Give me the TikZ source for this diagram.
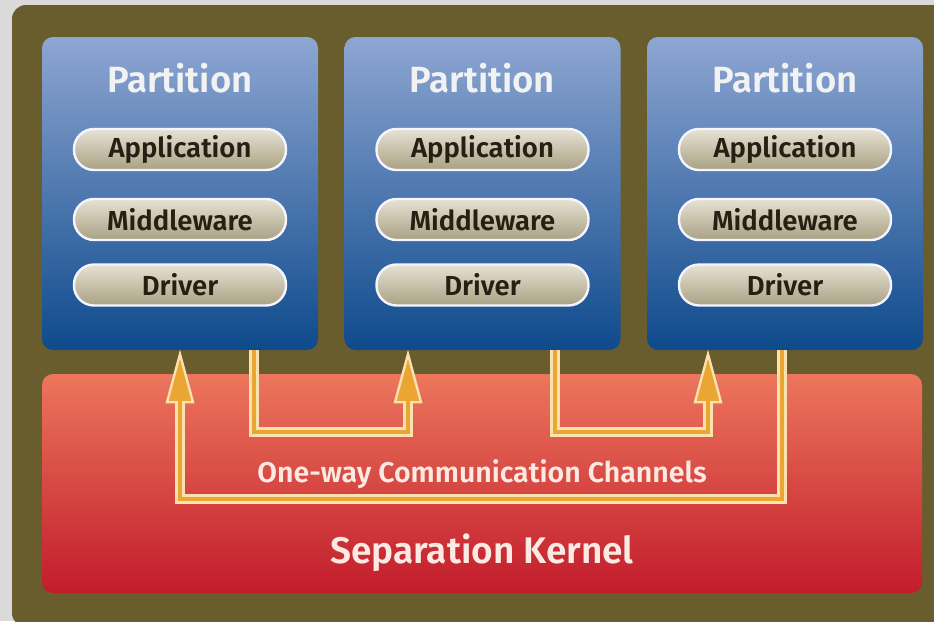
\documentclass[tikz,border=0pt]{standalone}
\usepackage{fontspec}
\setmainfont{Fira Sans}[BoldFont={Fira Sans SemiBold}]
\usetikzlibrary{calc}

\definecolor{bggray}{HTML}{DADADA}
\definecolor{frame}{HTML}{6A5D2D}
\definecolor{parttop}{HTML}{8EA6D2}
\definecolor{partmid}{HTML}{4F7CBE}
\definecolor{partbot}{HTML}{0E4A8C}
\definecolor{pilltop}{HTML}{E6E2D4}
\definecolor{pillbot}{HTML}{A9A184}
\definecolor{pilltext}{HTML}{262014}
\definecolor{kerntop}{HTML}{EC765C}
\definecolor{kernmid}{HTML}{DC4A3E}
\definecolor{kernbot}{HTML}{C21C2C}
\definecolor{chanorange}{HTML}{EBA532}
\definecolor{chancream}{HTML}{FAE2B0}
\definecolor{kerntext}{HTML}{FCEAE2}

\tikzset{
  partbox/.style={rectangle, rounded corners=11pt, minimum width=276pt, minimum height=313pt,
    top color=parttop, middle color=partmid, bottom color=partbot, inner sep=0pt},
  parttitle/.style={text=white!95!black, font=\bfseries\fontsize{36.5}{42}\selectfont},
  pill/.style={rectangle, rounded corners=20pt, minimum width=212pt, minimum height=41pt,
    draw=white!96!blue, line width=2.4pt, top color=pilltop, bottom color=pillbot,
    text=pilltext, font=\bfseries\fontsize{27.5}{32}\selectfont, inner sep=0pt},
  kernbox/.style={rectangle, rounded corners=11pt, minimum width=880pt, minimum height=219pt,
    top color=kerntop, middle color=kernmid, bottom color=kernbot, inner sep=0pt},
  chan/.style={draw=chancream, double=chanorange, double distance=4pt, line width=3pt,
    line join=miter, line cap=butt},
  chanhead/.style={fill=chanorange, draw=chancream, line width=2.4pt, line join=miter},
}

\newcommand{\arrowhead}[1]{%
  \path[chanhead] (#1) -- ++(-13,48) -- ++(26,0) -- cycle;}

\begin{document}
\begin{tikzpicture}[x=1pt, y=-1pt]
  \useasboundingbox (0,0) rectangle (934,621);
  \fill[bggray] (0,0) rectangle (934,621);
  % outer frame
  \fill[frame, rounded corners=14pt] (12,5) rectangle (950,627);

  % separation kernel
  \node[kernbox] (kern) at (482,483.5) {};
  \node[text=kerntext, font=\bfseries\fontsize{37}{42}\selectfont] (kernlbl) at (482,553) {Separation Kernel};
  \node[text=kerntext, font=\bfseries\fontsize{28.5}{33}\selectfont] (chanlbl) at (482,474) {One-way Communication Channels};

  % partitions
  \foreach \i/\cx in {1/180, 2/482.5, 3/785} {
    \node[partbox] (p\i) at (\cx,193.5) {};
    \node[parttitle] (t\i) at (\cx,78) {Partition};
    \node[pill] (app\i) at (\cx,149.5) {Application};
    \node[pill] (mid\i) at (\cx,219.5) {Middleware};
    \node[pill] (drv\i) at (\cx,285) {Driver};
  }

  % channel end points on the partition bottoms
  \coordinate (o1) at ($(p1.south)+(74,0)$);
  \coordinate (i2) at ($(p2.south)+(-74.5,4)$);
  \coordinate (o2) at ($(p2.south)+(72.5,0)$);
  \coordinate (i3) at ($(p3.south)+(-77,4)$);
  \coordinate (o3) at ($(p3.south)+(-3,0)$);
  \coordinate (i1) at ($(p1.south)+(0,4)$);

  % arrowheads first, stems drawn over their bases
  \arrowhead{i1}
  \arrowhead{i2}
  \arrowhead{i3}

  % partition 1 -> partition 2
  \draw[chan] (o1) -- (o1 |- 0,432) -- (i2 |- 0,432) -- ($(i2)+(0,46.5)$);
  % partition 2 -> partition 3
  \draw[chan] (o2) -- (o2 |- 0,432) -- (i3 |- 0,432) -- ($(i3)+(0,46.5)$);
  % partition 3 -> partition 1
  \draw[chan] (o3) -- (o3 |- 0,499) -- (i1 |- 0,499) -- ($(i1)+(0,46.5)$);
\end{tikzpicture}
\end{document}
